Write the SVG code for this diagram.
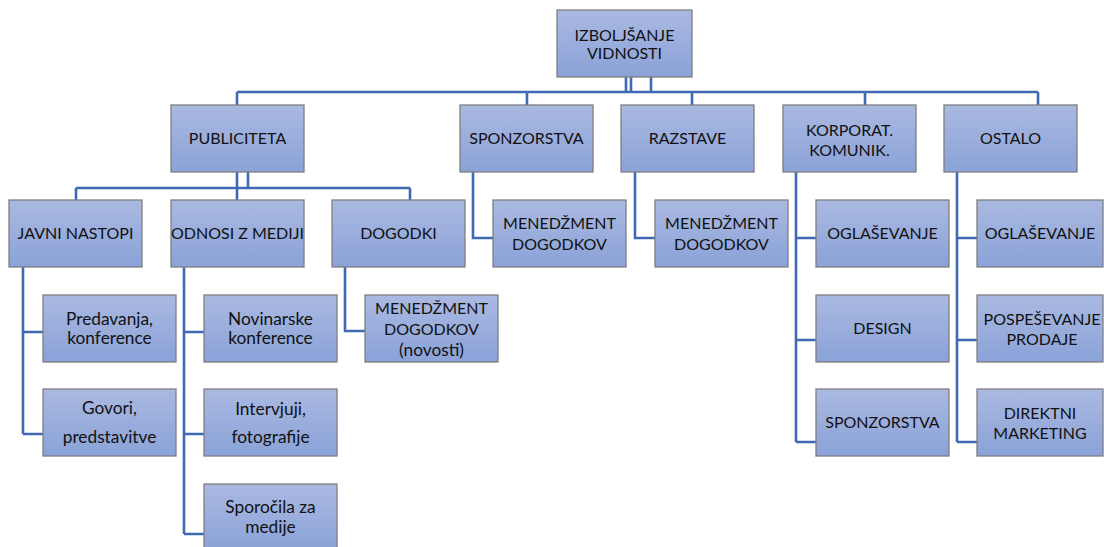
<svg xmlns="http://www.w3.org/2000/svg" width="1104" height="547" viewBox="0 0 1104 547">
<defs>
<linearGradient id="g" x1="0" y1="0" x2="0" y2="1">
<stop offset="0" stop-color="#AAB9E1"/>
<stop offset="1" stop-color="#8AA2D8"/>
</linearGradient>
<style>
.b{fill:url(#g);stroke:#7F7F7F;stroke-width:1.3}
.t{font-family:Lato,"Liberation Sans",sans-serif;font-size:16px;fill:#111;text-anchor:middle}
.l{font-size:17.3px}
.c{fill:none;stroke:#3F68B5;stroke-width:2.6;stroke-linejoin:miter}
</style>
</defs>
<rect width="1104" height="547" fill="#fff"/>
<g id="connectors" class="c">
<path d="M626 77V92M631 77V92M651 77V92M237 92H1038M237 92V105M527 92V105M692 92V105M865 92V105M1038 92V105"/>
<path d="M237 172V188M248 172V188M76 188H410M76 188V200M237 188V200M410 188V200"/>
<path d="M23 267V434M23 332H43M23 434H43"/>
<path d="M184 267V534M184 332H204M184 434H204M184 534H204"/>
<path d="M345 267V331H365"/>
<path d="M473 172V238H493"/>
<path d="M635 172V238H655"/>
<path d="M796 172V442M796 238H816M796 340H816M796 442H816"/>
<path d="M957 172V442M957 238H977M957 340H977M957 442H977"/>
</g>
<g id="n-top"><rect class="b" x="557" y="10" width="135" height="67"/><text class="t" x="624.5" y="41">IZBOLJŠANJE</text><text class="t" x="624.5" y="59">VIDNOSTI</text></g>
<g id="n-publiciteta"><rect class="b" x="171" y="105" width="133" height="67"/><text class="t" x="237.5" y="144">PUBLICITETA</text></g>
<g id="n-sponzorstva"><rect class="b" x="460" y="105" width="133" height="67"/><text class="t" x="526.5" y="144">SPONZORSTVA</text></g>
<g id="n-razstave"><rect class="b" x="621" y="105" width="133" height="67"/><text class="t" x="687.5" y="144">RAZSTAVE</text></g>
<g id="n-korporat"><rect class="b" x="783" y="105" width="133" height="67"/><text class="t" x="849.5" y="136">KORPORAT.</text><text class="t" x="849.5" y="156">KOMUNIK.</text></g>
<g id="n-ostalo"><rect class="b" x="944" y="105" width="133" height="67"/><text class="t" x="1010.5" y="144">OSTALO</text></g>
<g id="n-javni"><rect class="b" x="9" y="200" width="133" height="67"/><text class="t" x="75.5" y="239">JAVNI NASTOPI</text></g>
<g id="n-odnosi"><rect class="b" x="171" y="200" width="133" height="67"/><text class="t" x="237.5" y="239">ODNOSI Z MEDIJI</text></g>
<g id="n-dogodki"><rect class="b" x="332" y="200" width="133" height="67"/><text class="t" x="398.5" y="239">DOGODKI</text></g>
<g id="n-men1"><rect class="b" x="493" y="200" width="133" height="67"/><text class="t" x="559.5" y="229">MENEDŽMENT</text><text class="t" x="559.5" y="250">DOGODKOV</text></g>
<g id="n-men2"><rect class="b" x="655" y="200" width="133" height="67"/><text class="t" x="721.5" y="229">MENEDŽMENT</text><text class="t" x="721.5" y="250">DOGODKOV</text></g>
<g id="n-ogl1"><rect class="b" x="816" y="200" width="133" height="67"/><text class="t" x="882.5" y="239">OGLAŠEVANJE</text></g>
<g id="n-ogl2"><rect class="b" x="977" y="200" width="126" height="67"/><text class="t" x="1040" y="239">OGLAŠEVANJE</text></g>
<g id="n-predavanja"><rect class="b" x="43" y="295" width="133" height="67"/><text class="t l" x="109.5" y="325">Predavanja,</text><text class="t l" x="109.5" y="344">konference</text></g>
<g id="n-novinarske"><rect class="b" x="204" y="295" width="133" height="67"/><text class="t l" x="270.5" y="325">Novinarske</text><text class="t l" x="270.5" y="344">konference</text></g>
<g id="n-men3"><rect class="b" x="365" y="295" width="133" height="67"/><text class="t" x="431.5" y="314">MENEDŽMENT</text><text class="t" x="431.5" y="335">DOGODKOV</text><text class="t l" x="431.5" y="356">(novosti)</text></g>
<g id="n-design"><rect class="b" x="816" y="295" width="133" height="67"/><text class="t" x="882.5" y="334">DESIGN</text></g>
<g id="n-pospes"><rect class="b" x="977" y="295" width="126" height="67"/><text class="t" x="1042" y="325">POSPEŠEVANJE</text><text class="t" x="1042" y="345">PRODAJE</text></g>
<g id="n-govori"><rect class="b" x="43" y="389" width="133" height="67"/><text class="t l" x="109.5" y="414">Govori,</text><text class="t l" x="109.5" y="443">predstavitve</text></g>
<g id="n-intervjuji"><rect class="b" x="204" y="389" width="133" height="67"/><text class="t l" x="270.5" y="415">Intervjuji,</text><text class="t l" x="270.5" y="443">fotografije</text></g>
<g id="n-sponz2"><rect class="b" x="816" y="389" width="133" height="67"/><text class="t" x="882.5" y="428">SPONZORSTVA</text></g>
<g id="n-direktni"><rect class="b" x="977" y="389" width="126" height="67"/><text class="t" x="1040" y="419">DIREKTNI</text><text class="t" x="1040" y="439">MARKETING</text></g>
<g id="n-sporocila"><rect class="b" x="204" y="484" width="133" height="67"/><text class="t l" x="270.5" y="513">Sporočila za</text><text class="t l" x="270.5" y="533">medije</text></g>
</svg>
